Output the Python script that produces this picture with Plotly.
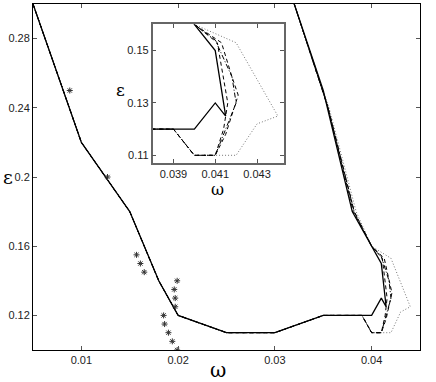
import plotly.graph_objects as go

# common part of all curves (left branch down to the bottom)
omega_base = [0.005, 0.010, 0.015, 0.018, 0.020, 0.025, 0.030, 0.035, 0.039]
eps_base = [0.30, 0.22, 0.18, 0.14, 0.12, 0.11, 0.11, 0.12, 0.12]

# right-hand ends of each curve
omega_solid = [0.040, 0.041, 0.0415, 0.041, 0.040, 0.038, 0.035, 0.032]
eps_solid = [0.12, 0.13, 0.125, 0.15, 0.16, 0.18, 0.25, 0.30]

omega_dash1 = [0.040, 0.041, 0.0414, 0.0416, 0.0411, 0.040, 0.0381, 0.0355, 0.032]
eps_dash1 = [0.11, 0.11, 0.12, 0.13, 0.153, 0.16, 0.18, 0.24, 0.30]

omega_dash2 = [0.040, 0.041, 0.0415, 0.0421, 0.0418, 0.0413, 0.040, 0.0382, 0.0355, 0.032]
eps_dash2 = [0.11, 0.11, 0.118, 0.133, 0.14, 0.153, 0.16, 0.18, 0.24, 0.30]

omega_dashdot = [0.040, 0.041, 0.0415, 0.042, 0.0418, 0.041, 0.040, 0.0382, 0.0355, 0.032]
eps_dashdot = [0.11, 0.11, 0.12, 0.13, 0.14, 0.154, 0.16, 0.18, 0.24, 0.30]

omega_dot = [0.040, 0.042, 0.043, 0.044, 0.042, 0.040, 0.0384, 0.0356, 0.032]
eps_dot = [0.11, 0.11, 0.122, 0.125, 0.153, 0.16, 0.18, 0.24, 0.30]

# star markers
omega_star = [0.0088, 0.0127, 0.0157, 0.0161, 0.0165, 0.0199, 0.0196, 0.0197,
              0.0197, 0.0185, 0.0186, 0.0190, 0.0194, 0.0199]
eps_star = [0.25, 0.20, 0.155, 0.15, 0.145, 0.14, 0.135, 0.13,
            0.125, 0.12, 0.115, 0.11, 0.105, 0.10]

curves = [
    (omega_dot, eps_dot, '1px,2px', '#777777', 1.0),
    (omega_dashdot, eps_dashdot, '5px,2px,1px,2px', 'black', 1.0),
    (omega_dash2, eps_dash2, '4px,3px', 'black', 1.0),
    (omega_dash1, eps_dash1, '4px,3px', 'black', 1.0),
    (omega_solid, eps_solid, 'solid', 'black', 1.3),
]

fig = go.Figure()

for xa, ya in [('x', 'y'), ('x2', 'y2')]:
    for om, ep, dash, col, w in curves:
        fig.add_trace(go.Scatter(x=omega_base + om, y=eps_base + ep, mode='lines',
                                 line=dict(color=col, width=w, dash=dash),
                                 xaxis=xa, yaxis=ya, showlegend=False))

fig.add_trace(go.Scatter(x=omega_star, y=eps_star, mode='markers',
                         marker=dict(symbol='asterisk-open', size=5, color='#333333',
                                     line=dict(color='#333333', width=1)),
                         showlegend=False))

tickfont = dict(family='Liberation Sans', size=11, color='#222222')
common = dict(showline=True, linecolor='black', linewidth=1, mirror='allticks',
              ticks='inside', ticklen=4, tickcolor='#555555', showgrid=False,
              zeroline=False, tickfont=tickfont, automargin=False)
inset = {**common, 'linecolor': '#666666', 'linewidth': 1.5}

fig.update_layout(
    width=436, height=382,
    margin=dict(l=33, r=16, t=4, b=32),
    plot_bgcolor='white', paper_bgcolor='white',
    xaxis=dict(range=[0.005, 0.045], domain=[0, 1],
               tickvals=[0.01, 0.02, 0.03, 0.04],
               ticktext=['0.01', '0.02', '0.03', '0.04'], **common),
    yaxis=dict(range=[0.1, 0.3], domain=[0, 1],
               tickvals=[0.12, 0.16, 0.2, 0.24, 0.28],
               ticktext=['0.12', '0.16', '0.2', '0.24', '0.28'], **common),
    xaxis2=dict(range=[0.038, 0.0443], domain=[0.309, 0.649], anchor='y2',
                tickvals=[0.039, 0.041, 0.043],
                ticktext=['0.039', '0.041', '0.043'], **inset),
    yaxis2=dict(range=[0.107, 0.16], domain=[0.54, 0.941], anchor='x2',
                tickvals=[0.11, 0.13, 0.15],
                ticktext=['0.11', '0.13', '0.15'], **inset),
)

# axis symbols
labfont = dict(family='DejaVu Serif', color='black')
fig.add_annotation(text='ω', xref='paper', yref='paper', x=0.478, y=-0.058,
                   xanchor='center', yanchor='middle', borderpad=0, showarrow=False,
                   font=dict(size=20, **labfont))
fig.add_annotation(text='ε', xref='paper', yref='paper', x=-0.064, y=0.5,
                   xanchor='center', yanchor='middle', borderpad=0, showarrow=False,
                   font=dict(size=19, **labfont))
fig.add_annotation(text='ε', xref='paper', yref='paper', x=0.225, y=0.751,
                   xanchor='center', yanchor='middle', borderpad=0, showarrow=False,
                   font=dict(size=17, **labfont))
fig.add_annotation(text='ω', xref='paper', yref='paper', x=0.478, y=0.464,
                   xanchor='center', yanchor='middle', borderpad=0, showarrow=False,
                   font=dict(size=16, **labfont))

# page has a default 8px body margin; drop it so the figure sits at 0,0
fig.write_html("out.html", config={'displayModeBar': False},
               post_script="document.body.style.margin='0px';")
